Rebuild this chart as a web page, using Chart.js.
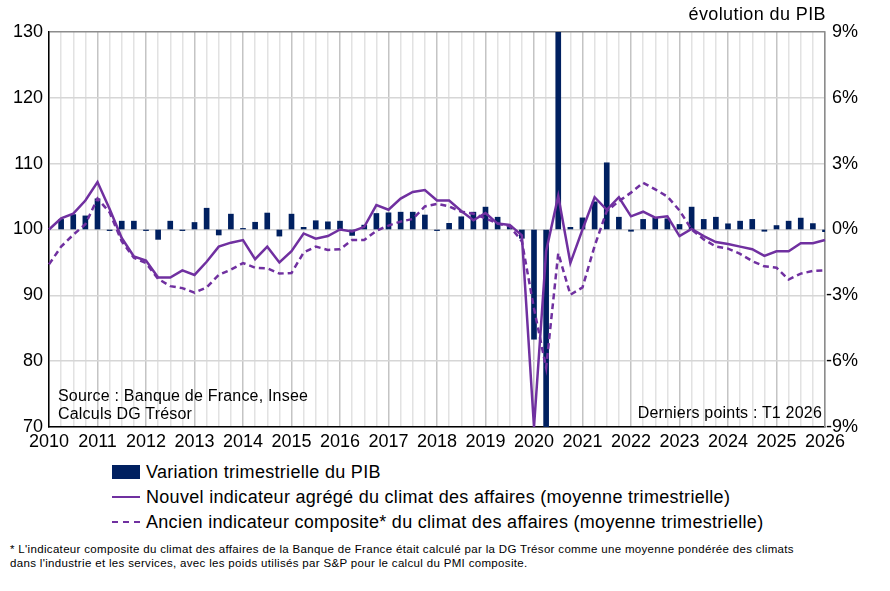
<!DOCTYPE html>
<html lang="fr">
<head>
<meta charset="utf-8">
<title>Climat des affaires et PIB</title>
<script src="https://cdn.jsdelivr.net/npm/chart.js@4/dist/chart.umd.min.js"></script>
<style>
  body { margin: 0; background: #fff; font-family: 'Liberation Sans', Arial, sans-serif; color: #000; }
  #wrap { position: relative; width: 890px; height: 591px; overflow: hidden; }
  #chart { position: absolute; left: 0; top: 0; }
  .txt { position: absolute; white-space: nowrap; font-size: 16px; line-height: 18px; letter-spacing: 0.2px; }
  .leg { position: absolute; left: 112px; height: 20px; white-space: nowrap; font-size: 18px; line-height: 20px; letter-spacing: 0.3px; }
  .leg .sw { position: absolute; left: 0; width: 28px; }
  .leg .lab { position: absolute; left: 34px; top: 0; }
  .foot { position: absolute; left: 10px; white-space: nowrap; font-size: 11.5px; line-height: 14px; letter-spacing: 0.33px; }
</style>
</head>
<body>
<div id="wrap">
  <canvas id="chart" width="890" height="460"></canvas>

  <div class="txt" style="right:64px; top:5px; font-size:18px; letter-spacing:0.4px;">évolution du PIB</div>
  <div class="txt" style="left:58px; top:387px;">Source : Banque de France, Insee</div>
  <div class="txt" style="left:58px; top:405px;">Calculs DG Trésor</div>
  <div class="txt" style="right:68px; top:404px;">Derniers points : T1 2026</div>

  <div class="leg" style="top:462px;"><span class="sw" style="top:3px; height:14px; background:#002060;"></span><span class="lab">Variation trimestrielle du PIB</span></div>
  <div class="leg" style="top:487px;"><span class="sw" style="top:9px; height:0; border-top:2.5px solid #7030a0;"></span><span class="lab">Nouvel indicateur agrégé du climat des affaires (moyenne trimestrielle)</span></div>
  <div class="leg" style="top:512px;"><span class="sw" style="top:9px; height:0; border-top:2.5px dashed #7030a0;"></span><span class="lab">Ancien indicateur composite* du climat des affaires (moyenne trimestrielle)</span></div>

  <div class="foot" style="top:542px;">* L'indicateur composite du climat des affaires de la Banque de France était calculé par la DG Trésor comme une moyenne pondérée des climats</div>
  <div class="foot" style="top:556px;">dans l'industrie et les services, avec les poids utilisés par S&amp;P pour le calcul du PMI composite.</div>
</div>

<script>
// trimestres, de T1 2010 à T1 2026
const quarters = [
  'T1 2010', 'T2 2010', 'T3 2010', 'T4 2010',
  'T1 2011', 'T2 2011', 'T3 2011', 'T4 2011',
  'T1 2012', 'T2 2012', 'T3 2012', 'T4 2012',
  'T1 2013', 'T2 2013', 'T3 2013', 'T4 2013',
  'T1 2014', 'T2 2014', 'T3 2014', 'T4 2014',
  'T1 2015', 'T2 2015', 'T3 2015', 'T4 2015',
  'T1 2016', 'T2 2016', 'T3 2016', 'T4 2016',
  'T1 2017', 'T2 2017', 'T3 2017', 'T4 2017',
  'T1 2018', 'T2 2018', 'T3 2018', 'T4 2018',
  'T1 2019', 'T2 2019', 'T3 2019', 'T4 2019',
  'T1 2020', 'T2 2020', 'T3 2020', 'T4 2020',
  'T1 2021', 'T2 2021', 'T3 2021', 'T4 2021',
  'T1 2022', 'T2 2022', 'T3 2022', 'T4 2022',
  'T1 2023', 'T2 2023', 'T3 2023', 'T4 2023',
  'T1 2024', 'T2 2024', 'T3 2024', 'T4 2024',
  'T1 2025', 'T2 2025', 'T3 2025', 'T4 2025',
  'T1 2026'
];

// variation trimestrielle du PIB, en % (axe de droite)
const pibVariation = [
  null, 0.46, 0.68, 0.62,
  1.40, -0.05, 0.38, 0.38,
  -0.05, -0.45, 0.38, -0.05,
  0.32, 0.97, -0.25, 0.70,
  0.05, 0.33, 0.75, -0.30,
  0.70, 0.10, 0.40, 0.35,
  0.38, -0.27, 0.20, 0.73,
  0.76, 0.79, 0.79, 0.66,
  -0.05, 0.28, 0.58, 0.79,
  1.02, 0.56, 0.15, -0.40,
  -5.0, -13.5, 18.5, 0.10,
  0.53, 1.26, 3.04, 0.56,
  -0.08, 0.46, 0.53, 0.49,
  0.23, 1.02, 0.46, 0.56,
  0.26, 0.38, 0.46, -0.08,
  0.18, 0.38, 0.52, 0.27,
  -0.10
];

// nouvel indicateur agrégé (axe de gauche)
const nouvelIndicateur = [
  100.0, 101.7, 102.4, 104.4,
  107.2, 103.1, 98.7, 95.9,
  95.3, 92.7, 92.7, 93.8,
  93.1, 95.1, 97.4, 98.0,
  98.4, 95.5, 97.4, 95.0,
  96.7, 99.4, 98.6, 99.0,
  100.0, 99.7, 100.4, 103.7,
  103.0, 104.7, 105.7, 106.0,
  104.4, 104.4, 102.8, 101.4,
  102.5, 100.9, 100.7, 99.1,
  70.0, 96.7, 105.1, 94.9,
  100.0, 104.9, 103.0, 104.9,
  102.0, 102.7, 101.8, 102.0,
  99.0, 100.1, 99.0, 98.1,
  97.8, 97.4, 97.0, 96.0,
  96.7, 96.7, 97.9, 97.9,
  98.4
];

// ancien indicateur composite (axe de gauche)
const ancienIndicateur = [
  94.7, 97.4, 99.2, 100.8,
  104.7, 102.6, 98.2, 95.7,
  94.9, 92.5, 91.4, 91.1,
  90.4, 91.2, 93.1, 93.9,
  94.9, 94.2, 94.1, 93.3,
  93.4, 96.5, 97.4, 96.9,
  97.0, 98.4, 98.4, 99.8,
  100.6, 101.2, 101.6, 103.5,
  103.9, 103.5, 102.7, 102.4,
  101.7, 100.9, 100.5, 98.2,
  88.0, 79.0, 96.4, 90.1,
  91.2, 97.5, 102.8, 104.3,
  105.6, 107.1, 106.1, 105.0,
  102.9, 100.0, 98.5, 97.4,
  97.1, 96.3, 95.2, 94.4,
  94.2, 92.4, 93.3, 93.7,
  93.8
];

const leftTicks = [70, 80, 90, 100, 110, 120, 130];
const rightTicks = [-9, -6, -3, 0, 3, 6, 9];

Chart.defaults.font.family = "'Liberation Sans', Arial, sans-serif";
Chart.defaults.font.size = 18;
Chart.defaults.color = '#000';

const ctx = document.getElementById('chart').getContext('2d');
new Chart(ctx, {
  type: 'bar',
  data: {
    labels: quarters,
    datasets: [
      {
        type: 'line',
        label: 'Nouvel indicateur agrégé du climat des affaires (moyenne trimestrielle)',
        data: nouvelIndicateur,
        yAxisID: 'y',
        borderColor: '#7030a0',
        borderWidth: 2.5,
        pointRadius: 0,
        tension: 0,
        order: 1
      },
      {
        type: 'line',
        label: 'Ancien indicateur composite* du climat des affaires (moyenne trimestrielle)',
        data: ancienIndicateur,
        yAxisID: 'y',
        borderColor: '#7030a0',
        borderWidth: 2.5,
        borderDash: [6, 4],
        pointRadius: 0,
        tension: 0,
        order: 2
      },
      {
        type: 'bar',
        label: 'Variation trimestrielle du PIB',
        data: pibVariation,
        yAxisID: 'yR',
        backgroundColor: '#002060',
        barThickness: 5,
        order: 3
      }
    ]
  },
  options: {
    responsive: false,
    animation: false,
    layout: { padding: { top: 32, right: 32, left: 0, bottom: 0 } },
    plugins: {
      legend: { display: false },
      tooltip: { enabled: false }
    },
    scales: {
      x: {
        type: 'category',
        offset: false,
        grid: {
          offset: false,
          drawTicks: false,
          color: (c) => (c.index % 4 === 0 ? '#c4c4c4' : '#e2e2e2'),
          lineWidth: 1.5
        },
        border: { color: '#000', width: 1.5 },
        ticks: {
          autoSkip: false,
          maxRotation: 0,
          padding: 4,
          callback: function (val, idx) {
            const lab = quarters[idx];
            return lab.startsWith('T1') ? lab.slice(3) : '';
          }
        },
        afterFit: (scale) => { scale.height = 33; }
      },
      y: {
        position: 'left',
        min: 70,
        max: 130,
        afterBuildTicks: (scale) => { scale.ticks = leftTicks.map(v => ({ value: v })); },
        grid: {
          drawTicks: false,
          color: (c) => (c.tick && c.tick.value === 130 ? '#8c8c8c' : '#d6d6d6'),
          lineWidth: 1.5
        },
        border: { color: '#000', width: 1.5 },
        ticks: { padding: 6 },
        afterFit: (scale) => { scale.width = 49; }
      },
      yR: {
        position: 'right',
        min: -9,
        max: 9,
        afterBuildTicks: (scale) => { scale.ticks = rightTicks.map(v => ({ value: v })); },
        grid: { drawOnChartArea: false, drawTicks: false },
        border: { color: '#8c8c8c', width: 1.5 },
        ticks: {
          padding: 3,
          crossAlign: 'far',
          callback: (v) => v + '%'
        },
        afterFit: (scale) => { scale.width = 33; }
      }
    }
  }
});
</script>
</body>
</html>
